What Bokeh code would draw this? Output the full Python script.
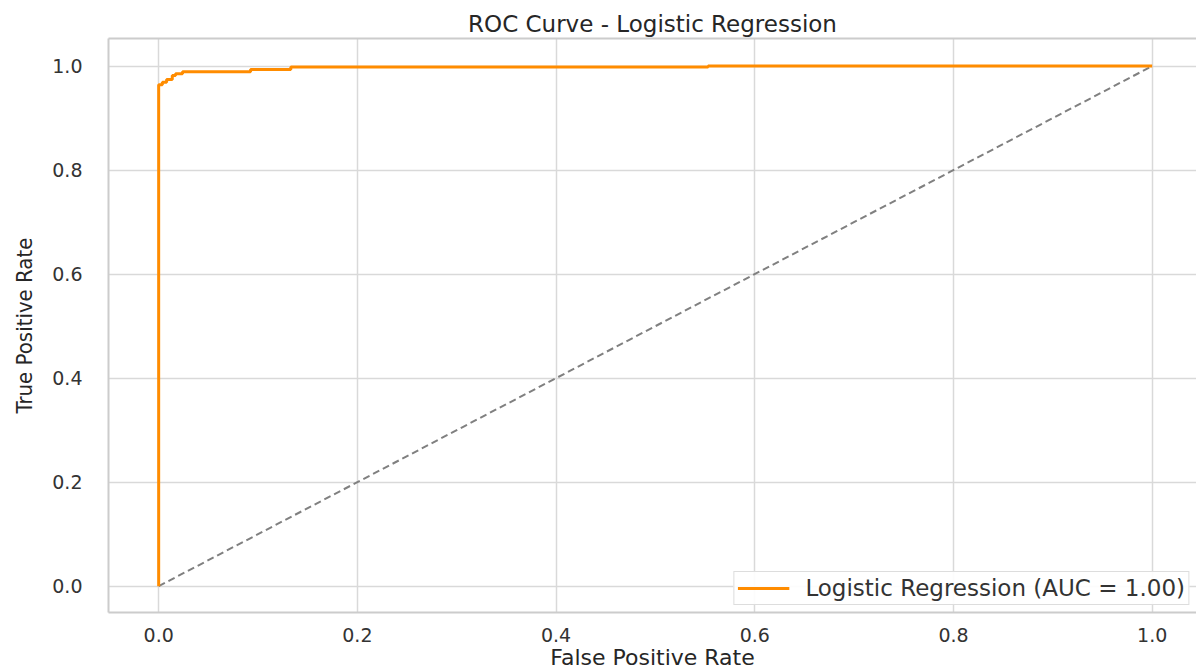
from bokeh.plotting import figure
from bokeh.embed import file_html
from bokeh.resources import INLINE
from bokeh.models import (Range1d, FixedTicker, Legend, LegendItem, LinearAxis,
                          PrintfTickFormatter)

# ROC curve points
fpr = [0.0, 0.0, 0.0037, 0.0037, 0.008, 0.008, 0.0137, 0.0137, 0.017, 0.017,
       0.024, 0.024, 0.0925, 0.0925, 0.133, 0.133, 0.553, 0.553, 1.0]
tpr = [0.0, 0.964, 0.964, 0.969, 0.969, 0.974, 0.974, 0.982, 0.982, 0.985,
       0.985, 0.989, 0.989, 0.9935, 0.9935, 0.998, 0.998, 1.0, 1.0]
diag_x = [0.0, 1.0]
diag_y = [0.0, 1.0]
ticks = [0.0, 0.2, 0.4, 0.6, 0.8, 1.0]
title_text = "ROC Curve - Logistic Regression"
x_label = "False Positive Rate"
y_label = "True Positive Rate"
legend_label = "Logistic Regression (AUC = 1.00)"

SPINE = "#cccccc"

p = figure(frame_width=1088, frame_height=574, output_backend="svg",
           toolbar_location=None,
           x_range=Range1d(-0.0505, 1.0446), y_range=Range1d(-0.0506, 1.053),
           min_border_left=108, min_border_right=0, min_border_top=38,
           min_border_bottom=40)

p.title.text = title_text
p.title.align = "center"
p.title.text_font = "DejaVu Sans"
p.title.text_font_size = "23px"
p.title.text_font_style = "normal"
p.title.text_color = "#262626"
p.title.standoff = 4

p.outline_line_color = None
p.background_fill_color = "white"
p.border_fill_color = "white"

fmt = PrintfTickFormatter(format="%.1f")
for ax in (p.xaxis[0], p.yaxis[0]):
    ax.ticker = FixedTicker(ticks=ticks)
    ax.formatter = fmt
    ax.axis_line_color = SPINE
    ax.axis_line_width = 2
    ax.major_tick_line_color = None
    ax.minor_tick_line_color = None
    ax.major_label_text_font = "DejaVu Sans"
    ax.major_label_text_font_size = "19px"
    ax.major_label_text_color = "#333333"
    ax.axis_label_text_font_style = "normal"
    ax.axis_label_text_color = "#262626"

p.xaxis[0].axis_label = x_label
p.xaxis[0].axis_label_text_font = "DejaVu Sans"
p.xaxis[0].axis_label_text_font_size = "22px"
p.xaxis[0].major_label_standoff = 9
p.xaxis[0].axis_label_standoff = 0

p.yaxis[0].axis_label = y_label
p.yaxis[0].axis_label_text_font = "DejaVu Sans Condensed"
p.yaxis[0].axis_label_text_font_size = "22px"
p.yaxis[0].major_label_standoff = 20
p.yaxis[0].axis_label_standoff = 12

top_axis = LinearAxis(axis_line_color=SPINE, axis_line_width=2,
                      major_tick_line_color=None, minor_tick_line_color=None,
                      major_label_text_font_size="0px",
                      ticker=FixedTicker(ticks=[]))
p.add_layout(top_axis, "above")

p.xgrid.grid_line_color = "#d9d9d9"
p.ygrid.grid_line_color = "#d9d9d9"
p.xgrid.grid_line_width = 1.5
p.ygrid.grid_line_width = 1.5

r_diag = p.line(diag_x, diag_y, line_color="#808080", line_width=2, line_dash="7 4")
r_roc = p.line(fpr, tpr, line_color="#ff8c00", line_width=3)

legend = Legend(items=[LegendItem(label=legend_label, renderers=[r_roc])],
                location="bottom_right")
legend.label_text_font = "DejaVu Sans"
legend.label_text_font_size = "23px"
legend.label_text_color = "#333333"
legend.border_line_color = "#dddddd"
legend.border_line_width = 1.5
legend.border_line_alpha = 1
legend.background_fill_alpha = 0.9
legend.glyph_width = 52
legend.padding = 3
legend.margin = 7
legend.label_standoff = 16
p.add_layout(legend)

open("out.html", "w").write(file_html(p, INLINE))
